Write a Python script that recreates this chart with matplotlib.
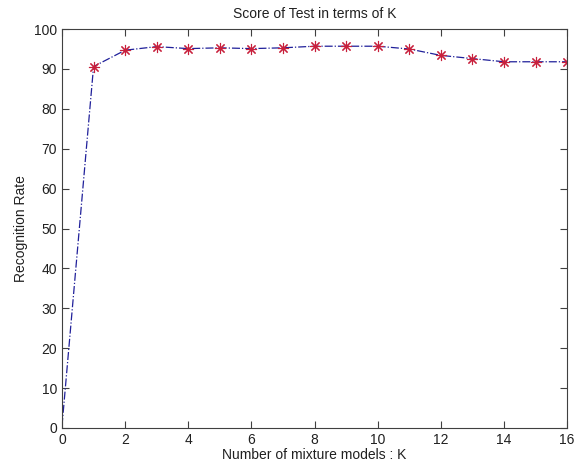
import matplotlib
matplotlib.use("Agg")
import matplotlib.pyplot as plt

plt.rcParams["font.family"] = ["Liberation Sans", "DejaVu Sans"]

k_values = list(range(0, 17))
recognition = [0.5, 90.6, 94.7, 95.6, 95.1, 95.3, 95.1, 95.3, 95.7,
               95.7, 95.7, 95.0, 93.4, 92.6, 91.8, 91.8, 91.8]

fig = plt.figure(figsize=(5.74, 4.71), dpi=100)
ax = fig.add_axes([0.108, 0.0913, 0.880, 0.847])

ax.plot(k_values, recognition, color="#20209a", linestyle="-.", linewidth=0.9)
ax.plot(k_values[1:], recognition[1:], linestyle="none",
        marker=(8, 2, 0), markersize=8, markeredgecolor="#c8203c",
        markeredgewidth=0.8)

ax.set_xlim(0, 16)
ax.set_ylim(0, 100)
ax.set_xticks(range(0, 17, 2))
ax.set_yticks(range(0, 101, 10))
ax.tick_params(direction="in", top=True, right=True, length=5,
               labelsize=10, color="#404040", labelcolor="#202020")
for s in ax.spines.values():
    s.set_color("#404040")

ax.set_title("Score of Test in terms of K", fontsize=10, color="#202020", pad=8)
ax.set_xlabel("Number of mixture models : K", fontsize=10, color="#202020", labelpad=1)
ax.set_ylabel("Recognition Rate", fontsize=10, color="#202020")

fig.savefig("out.png", dpi=100, facecolor="white")
